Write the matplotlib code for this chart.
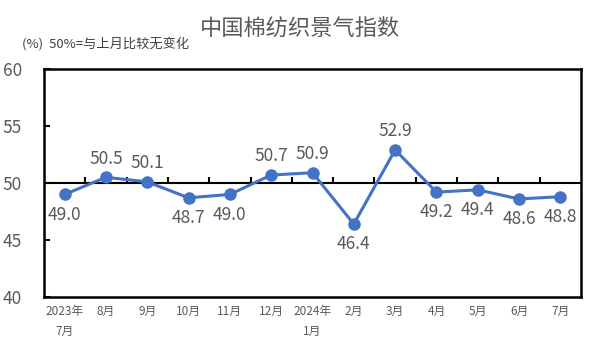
import matplotlib
matplotlib.use("Agg")
import matplotlib.pyplot as plt

plt.rcParams['font.family'] = ['Noto Sans CJK SC', 'DejaVu Sans']

categories = ["2023年\n7月", "8月", "9月", "10月", "11月", "12月", "2024年\n1月",
              "2月", "3月", "4月", "5月", "6月", "7月"]
values = [49.0, 50.5, 50.1, 48.7, 49.0, 50.7, 50.9, 46.4, 52.9, 49.2, 49.4, 48.6, 48.8]
label_above = [False, True, True, False, False, True, True, False, True, False, False, False, False]
yticks = [40, 45, 50, 55, 60]

gray = "#595959"
blue = "#4472C4"

fig = plt.figure(figsize=(5.91, 3.54), dpi=100)
ax = fig.add_axes([44/591, 1-297/354, (581-44)/591, (297-69)/354])

x = list(range(len(values)))
ax.plot(x, values, color=blue, lw=2.2, marker='o', ms=8, zorder=3)
ax.set_xlim(-0.5, len(values)-0.5)
ax.set_ylim(40, 60)
ax.set_yticks(yticks)
ax.set_yticklabels([str(v) for v in yticks], fontsize=12.5, color=gray)
ax.tick_params(axis='y', direction='in', length=4, width=1.5, pad=16)
ax.set_xticks(x)
ax.set_xticklabels(categories, fontsize=8.5, color=gray, linespacing=1.7, va='top')
ax.tick_params(axis='x', length=0, pad=6)
for s in ax.spines.values():
    s.set_linewidth(1.8)
    s.set_color('black')

ax.axhline(50, color='black', lw=1.5, zorder=2)
sec = ax.secondary_xaxis(0.5)
sec.set_xticks([i + 0.5 for i in range(len(values) - 1)])
sec.set_xticklabels([])
sec.tick_params(direction='out', length=4, width=1.5)
sec.spines['bottom'].set_visible(False)
sec.spines['top'].set_visible(False)

for xi, v, up in zip(x, values, label_above):
    ax.annotate(f"{v:.1f}", (xi, v), xytext=(0, 7 if up else -8), textcoords='offset points',
                ha='center', va='bottom' if up else 'top', fontsize=12.5, color=gray)

fig.text(300/591, 1-29/354, "中国棉纺织景气指数", ha='center', va='center', fontsize=16, color=gray)
fig.text(22/591, 1-44/354, "(%)  50%=与上月比较无变化", ha='left', va='center', fontsize=9.5, color="#404040")

fig.savefig("out.png", dpi=100)
